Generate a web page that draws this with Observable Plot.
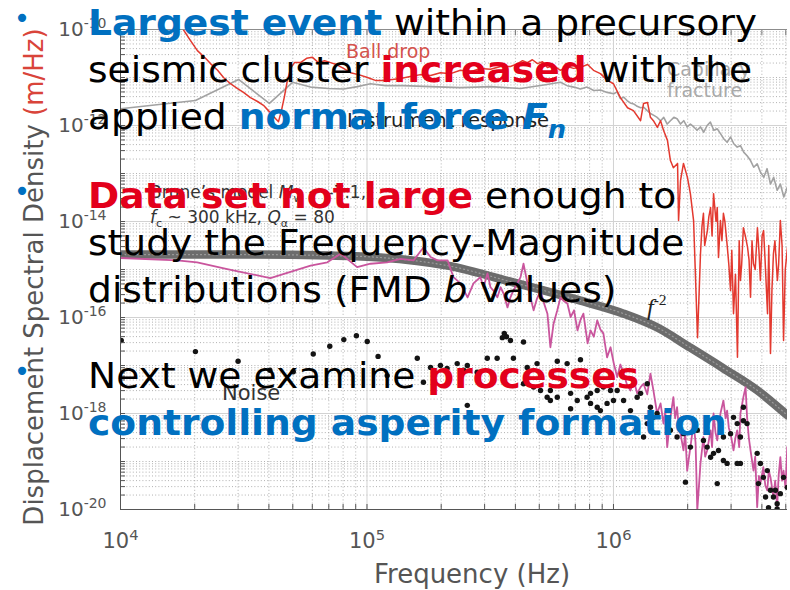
<!DOCTYPE html>
<html>
<head>
<meta charset="utf-8">
<script src="https://cdn.jsdelivr.net/npm/d3@7"></script>
<script src="https://cdn.jsdelivr.net/npm/@observablehq/plot@0.6"></script>
<style>
  html, body { margin: 0; padding: 0; background: #ffffff; }
  #slide { position: relative; width: 790px; height: 590px; overflow: hidden; }
  #slide svg { position: absolute; left: 0; top: 0; }
</style>
</head>
<body>
<div id="slide"></div>
<script>
// Spectra as [log10 frequency (Hz), log10 displacement spectral density (m/Hz)]
const capillaryFracture = [
  [4.000,-11.65],[4.304,-11.48],[4.479,-11.04],[4.604,-11.54],[4.698,-11.10],[4.771,-11.20],
  [4.844,-11.23],[4.905,-11.24],[4.961,-11.19],[5.014,-11.13],[5.075,-11.17],[5.148,-11.17],
  [5.258,-11.19],[5.379,-11.21],[5.501,-11.19],[5.623,-11.23],[5.724,-11.15],[5.785,-11.10],
  [5.812,-11.17],[5.839,-11.20],[5.866,-11.24],[5.893,-11.20],[5.920,-11.27],[5.947,-11.26],
  [5.974,-11.31],[6.001,-11.34],[6.015,-11.30],[6.028,-11.44],[6.042,-11.41],[6.055,-11.48],
  [6.068,-11.53],[6.082,-11.55],[6.096,-11.60],[6.110,-11.63],[6.123,-11.62],[6.137,-11.69],
  [6.150,-11.75],[6.164,-11.79],[6.177,-11.83],[6.191,-11.90],[6.204,-11.83],[6.218,-11.97],
  [6.231,-11.90],[6.245,-11.83],[6.258,-11.86],[6.272,-11.97],[6.285,-11.90],[6.299,-12.03],
  [6.312,-11.97],[6.326,-12.03],[6.339,-12.10],[6.353,-12.03],[6.366,-12.14],[6.380,-12.00],
  [6.393,-11.93],[6.407,-12.10],[6.421,-12.07],[6.434,-12.17],[6.448,-12.28],[6.461,-12.35],
  [6.475,-12.24],[6.488,-12.38],[6.502,-12.45],[6.515,-12.42],[6.529,-12.56],[6.542,-12.63],
  [6.556,-12.73],[6.569,-12.87],[6.583,-12.80],[6.596,-12.97],[6.610,-13.08],[6.623,-12.90],
  [6.637,-13.22],[6.650,-13.08],[6.664,-13.35],[6.677,-13.22],[6.691,-13.49],[6.705,-13.29],
  [6.718,-13.56]
];

const ballDrop = [
  [4.200,-9.70],[4.252,-9.98],[4.284,-10.23],[4.312,-10.44],[4.345,-10.60],[4.365,-10.71],
  [4.394,-10.85],[4.418,-11.00],[4.446,-11.13],[4.475,-11.23],[4.499,-11.31],[4.527,-11.42],
  [4.556,-11.50],[4.580,-11.58],[4.600,-11.69],[4.621,-11.81],[4.641,-11.92],[4.653,-11.69],
  [4.665,-11.40],[4.677,-11.06],[4.690,-10.81],[4.706,-10.69],[4.730,-10.69],[4.755,-10.60],
  [4.779,-10.58],[4.803,-10.69],[4.828,-10.65],[4.852,-10.69],[4.876,-10.73],[4.905,-10.81],
  [4.933,-10.90],[4.966,-10.94],[5.002,-11.00],[5.034,-11.06],[5.067,-11.06],[5.103,-11.04],
  [5.136,-11.02],[5.176,-10.98],[5.217,-10.94],[5.258,-10.96],[5.298,-10.90],[5.339,-10.92],
  [5.379,-10.85],[5.420,-10.88],[5.460,-10.81],[5.501,-10.83],[5.542,-10.77],[5.582,-10.77],
  [5.611,-10.71],[5.631,-10.65],[5.651,-10.69],[5.671,-10.63],[5.692,-10.71],[5.712,-10.67],
  [5.732,-10.79],[5.757,-10.75],[5.785,-10.85],[5.813,-10.77],[5.838,-10.81],[5.866,-10.79],
  [5.895,-10.73],[5.919,-10.85],[5.947,-10.92],[5.976,-11.06],[6.000,-11.13],[6.028,-11.42],
  [6.057,-11.63],[6.081,-11.69],[6.110,-11.90],[6.122,-11.54],[6.138,-11.52],[6.150,-11.83],
  [6.162,-11.90],[6.178,-12.04],[6.191,-11.90],[6.203,-12.10],[6.219,-12.31],[6.231,-12.73],
  [6.243,-12.88],[6.260,-12.79],[6.264,-13.98],[6.272,-13.15],[6.284,-12.79],[6.300,-13.08],
  [6.312,-13.42],[6.325,-13.98],[6.341,-16.42],[6.353,-14.67],[6.359,-14.10],[6.365,-13.83],
  [6.370,-14.50],[6.381,-14.19],[6.387,-13.90],[6.394,-13.71],[6.400,-14.30],[6.406,-13.42],
  [6.416,-14.00],[6.421,-13.71],[6.426,-14.75],[6.434,-13.98],[6.440,-14.40],[6.446,-13.83],
  [6.452,-14.00],[6.462,-14.54],[6.468,-14.90],[6.475,-15.44],[6.480,-14.60],[6.487,-15.92],
  [6.495,-15.10],[6.503,-16.83],[6.510,-14.40],[6.515,-15.23],[6.520,-14.90],[6.527,-14.13],
  [6.535,-14.30],[6.544,-14.54],[6.550,-14.80],[6.556,-15.58],[6.562,-14.40],[6.568,-14.88],
  [6.575,-15.00],[6.584,-14.13],[6.590,-14.60],[6.596,-15.23],[6.603,-14.30],[6.609,-14.19],
  [6.615,-14.80],[6.625,-15.92],[6.630,-14.50],[6.637,-16.75],[6.643,-15.40],[6.649,-14.67],
  [6.655,-14.40],[6.665,-15.23],[6.670,-14.90],[6.677,-13.98],[6.684,-14.50],[6.690,-16.48],
  [6.697,-15.00],[6.706,-14.54],[6.712,-14.80]
];

const largestEvent = [
  [4.000,-14.76],[4.230,-14.81],[4.311,-14.85],[4.433,-14.99],[4.608,-15.18],[4.771,-14.92],
  [4.839,-14.85],[4.893,-14.67],[4.960,-14.95],[5.014,-14.88],[5.082,-14.85],[5.136,-14.78],
  [5.189,-14.81],[5.229,-14.54],[5.258,-14.74],[5.286,-14.81],[5.327,-14.81],[5.351,-15.16],
  [5.379,-15.29],[5.408,-15.58],[5.432,-15.29],[5.460,-15.16],[5.473,-15.37],[5.489,-15.08],
  [5.501,-15.37],[5.513,-15.44],[5.529,-15.58],[5.542,-15.37],[5.554,-15.50],[5.570,-15.79],
  [5.582,-15.58],[5.594,-15.44],[5.623,-15.16],[5.635,-14.88],[5.651,-15.29],[5.663,-15.58],
  [5.676,-15.85],[5.690,-15.60],[5.704,-15.44],[5.718,-15.70],[5.732,-15.92],[5.744,-16.62],
  [5.757,-16.13],[5.772,-15.85],[5.785,-15.58],[5.797,-15.65],[5.813,-15.71],[5.826,-15.99],
  [5.840,-15.85],[5.854,-16.27],[5.866,-16.05],[5.878,-15.92],[5.895,-16.54],[5.907,-16.27],
  [5.920,-16.40],[5.934,-16.06],[5.947,-16.25],[5.959,-16.33],[5.974,-16.83],[5.988,-16.62],
  [6.001,-16.95],[6.015,-17.24],[6.028,-16.98],[6.041,-17.17],[6.055,-17.40],[6.069,-17.52],
  [6.082,-17.30],[6.096,-17.58],[6.110,-17.45],[6.122,-17.38],[6.137,-17.60],[6.150,-17.17],
  [6.162,-17.52],[6.177,-18.00],[6.191,-17.79],[6.203,-18.21],[6.210,-17.95],[6.218,-18.70],
  [6.231,-18.08],[6.243,-17.66],[6.250,-18.10],[6.258,-17.87],[6.265,-18.30],[6.272,-18.42],
  [6.284,-18.77],[6.291,-18.40],[6.299,-19.19],[6.312,-18.70],[6.325,-18.21],[6.333,-18.60],
  [6.340,-20.02],[6.353,-19.04],[6.365,-18.49],[6.372,-18.90],[6.380,-18.77],[6.394,-18.35],
  [6.400,-18.70],[6.406,-18.00],[6.414,-18.40],[6.421,-18.56],[6.434,-18.00],[6.446,-17.73],
  [6.455,-18.10],[6.461,-17.94],[6.468,-18.30],[6.475,-18.42],[6.487,-18.77],[6.495,-18.50],
  [6.502,-18.35],[6.510,-18.70],[6.515,-18.00],[6.527,-17.66],[6.536,-17.45],[6.542,-18.08],
  [6.549,-18.50],[6.556,-18.77],[6.568,-19.19],[6.575,-18.90],[6.583,-19.95],[6.590,-19.30],
  [6.596,-19.46],[6.608,-19.12],[6.616,-19.50],[6.624,-19.60],[6.630,-19.20],[6.637,-19.33],
  [6.649,-19.74],[6.656,-19.40],[6.664,-19.95],[6.670,-19.30],[6.677,-18.91],[6.684,-19.40],
  [6.690,-19.19],[6.698,-19.55],[6.705,-18.70]
];

const bruneModel = [
  [4.000,-14.69],[4.527,-14.69],[4.852,-14.71],[5.055,-14.75],[5.327,-14.92],[5.594,-15.27],
  [5.866,-15.65],[6.041,-15.92],[6.178,-16.21],[6.312,-16.63],[6.446,-17.06],[6.584,-17.52],
  [6.706,-18.04]
];

const noiseDots = [
  [4.003,-16.48],[4.304,-16.71],[4.477,-16.91],[4.606,-17.10],[4.701,-17.13],[4.782,-16.76],
  [4.849,-16.60],[4.906,-16.46],[4.957,-16.38],[5.001,-16.50],[5.045,-16.81],[5.082,-17.21],
  [5.204,-16.85],[5.229,-17.35],[5.258,-17.04],[5.298,-17.00],[5.325,-17.06],[5.366,-16.96],
  [5.392,-17.10],[5.407,-17.00],[5.407,-17.83],[5.447,-17.14],[5.488,-16.85],[5.528,-16.85],
  [5.549,-16.42],[5.557,-16.33],[5.566,-16.40],[5.582,-16.48],[5.594,-16.85],[5.635,-16.51],
  [5.635,-17.38],[5.650,-17.04],[5.676,-17.45],[5.690,-16.96],[5.704,-17.52],[5.731,-17.66],
  [5.744,-17.52],[5.744,-17.73],[5.772,-16.91],[5.772,-17.66],[5.812,-16.96],[5.826,-17.58],
  [5.826,-17.90],[5.853,-17.73],[5.866,-16.88],[5.893,-17.66],[5.907,-17.58],[5.907,-17.79],
  [5.934,-17.52],[5.934,-17.87],[5.947,-17.94],[5.959,-17.45],[5.974,-17.79],[5.988,-17.52],
  [6.000,-17.73],[6.015,-17.52],[6.041,-17.73],[6.069,-17.94],[6.096,-17.66],[6.110,-17.58],
  [6.122,-18.49],[6.137,-18.21],[6.137,-17.38],[6.150,-17.87],[6.162,-18.08],[6.177,-18.00],
  [6.231,-18.35],[6.258,-18.49],[6.284,-18.42],[6.292,-19.43],[6.312,-18.70],[6.340,-18.35],
  [6.365,-18.56],[6.380,-18.70],[6.394,-18.91],[6.406,-18.83],[6.421,-19.46],[6.426,-18.77],
  [6.446,-18.98],[6.446,-18.49],[6.461,-19.04],[6.475,-18.42],[6.487,-18.08],[6.502,-18.21],
  [6.502,-19.04],[6.515,-18.49],[6.515,-19.04],[6.527,-18.15],[6.527,-17.87],[6.542,-18.21],
  [6.583,-18.83],[6.588,-19.46],[6.596,-19.04],[6.608,-19.33],[6.617,-19.74],[6.624,-19.19],
  [6.629,-19.96],[6.637,-19.60],[6.649,-19.74],[6.657,-19.60],[6.664,-19.88],[6.664,-19.99],
  [6.677,-19.67],[6.690,-19.33],[6.705,-19.54]
];

// Axis ticks
const xDomain = [1e4, 10 ** 6.706];
const yDomain = [1e-20, 1e-10];
const xDecades = [1e4, 1e5, 1e6];
const yLabelTicks = [1e-20, 1e-18, 1e-16, 1e-14, 1e-12, 1e-10];

// Slide text
const slideLines = [
  [["Largest event", "blue"], [" within a precursory", "plain"]],
  [["seismic cluster ", "plain"], ["increased", "red"], [" with the", "plain"]],
  [["applied ", "plain"], ["normal force ", "blue"], ["F", "blueItalic"], ["n", "blueSub"]],
  [["Data set not large", "red"], [" enough to", "plain"]],
  [["study the Frequency-Magnitude", "plain"]],
  [["distributions (FMD ", "plain"], ["b", "italic"], [" values)", "plain"]],
  [["Next we examine ", "plain"], ["processes", "red"]],
  [["controlling asperity formation", "blue"]]
];
const lineBaselines = [35, 82, 129, 208, 255, 302, 388, 435];
const bulletRows = [0, 3, 6];

const toPoints = rows => rows.map(([lf, ls]) => ({f: 10 ** lf, s: 10 ** ls}));
const xMinor = xDecades.flatMap(d => d3.range(2, 10).map(k => k * d)).filter(v => v <= xDomain[1]);
const xAllTicks = [...xDecades, ...xMinor];
const yDecades = d3.range(-20, -9).map(e => 10 ** e);
const yOddDecades = d3.range(-19, -10, 2).map(e => 10 ** e);
const yMinor = d3.range(-20, -10).flatMap(e => d3.range(2, 10).map(k => k * 10 ** e));
const yAllTicks = [...yDecades, ...yMinor];
const powerFormat = d => `10^${Math.round(Math.log10(d))}`;

const chart = Plot.plot({
  width: 790,
  height: 590,
  marginLeft: 120,
  marginRight: 3,
  marginTop: 29,
  marginBottom: 81,
  style: {fontFamily: "'DejaVu Sans', sans-serif", background: "transparent", overflow: "visible"},
  x: {type: "log", domain: xDomain},
  y: {type: "log", domain: yDomain},
  marks: [
    Plot.ruleX(xMinor, {stroke: "#a9a9a9", strokeWidth: 0.9, strokeDasharray: "1,2.2"}),
    Plot.ruleY([...yMinor, ...yOddDecades], {stroke: "#a9a9a9", strokeWidth: 0.9, strokeDasharray: "1,2.2"}),
    Plot.ruleX(xDecades, {stroke: "#d2d2d2"}),
    Plot.ruleY(yLabelTicks, {stroke: "#d2d2d2"}),
    Plot.line(toPoints(capillaryFracture), {x: "f", y: "s", stroke: "#a2a2a2", strokeWidth: 1.6, clip: true}),
    Plot.line(toPoints(ballDrop), {x: "f", y: "s", stroke: "#e3392f", strokeWidth: 1.5, clip: true}),
    Plot.line(toPoints(bruneModel), {x: "f", y: "s", stroke: "#6c6c6c", strokeWidth: 8.5, curve: "monotone-x", clip: true}),
    Plot.line(toPoints(bruneModel), {x: "f", y: "s", stroke: "#9c9c9c", strokeWidth: 1.2, strokeDasharray: "1,3", curve: "monotone-x", clip: true}),
    Plot.line(toPoints(largestEvent), {x: "f", y: "s", stroke: "#c9559d", strokeWidth: 1.8, clip: true}),
    Plot.dot(toPoints(noiseDots), {x: "f", y: "s", r: 2.7, fill: "#141414", clip: true}),
    Plot.ruleY([yDomain[1]], {stroke: "#8c8c8c"}),
    Plot.ruleX([xDomain[0]], {stroke: "#555"}),
    Plot.ruleY([yDomain[0]], {stroke: "#555"}),
    Plot.axisY({ticks: yAllTicks, tickSize: -5, tickFormat: () => "", stroke: "#555", label: null}),
    Plot.axisY({ticks: yLabelTicks, tickSize: 0, tickPadding: 14, tickFormat: powerFormat, fontSize: 20, fill: "#555", label: null}),
    Plot.axisX({ticks: xAllTicks, tickSize: -5, tickFormat: () => "", stroke: "#555", label: null}),
    Plot.axisX({ticks: xDecades, tickSize: 0, tickPadding: 24, tickFormat: powerFormat, fontSize: 21, fill: "#555", label: null}),
    Plot.axisX({anchor: "top", ticks: xAllTicks, tickSize: -5, tickFormat: () => "", stroke: "#777", label: null})
  ]
});
document.getElementById("slide").appendChild(chart);

const svg = d3.select(chart);

// Power-of-ten tick labels with superscript exponents
svg.selectAll("text").each(function () {
  const s = this.textContent;
  if (!s.includes("^")) return;
  const [base, exp] = s.split("^");
  const t = d3.select(this);
  t.text(null);
  t.append("tspan").text(base);
  t.append("tspan").attr("dy", "-0.55em").attr("font-size", "0.7em").text(exp);
});

// Axis titles
svg.append("text")
  .attr("transform", "translate(43,277) rotate(-90)")
  .attr("text-anchor", "middle")
  .attr("font-size", 26)
  .attr("fill", "#555")
  .call(t => {
    t.append("tspan").text("Displacement Spectral Density ");
    t.append("tspan").attr("fill", "#d9443a").text("(m/Hz)");
  });
svg.append("text")
  .attr("x", 472).attr("y", 583)
  .attr("text-anchor", "middle")
  .attr("font-size", 26)
  .attr("fill", "#555")
  .text("Frequency (Hz)");

// In-plot annotations, anchored in data coordinates [log10 f, log10 S]
const sx = chart.scale("x"), sy = chart.scale("y");
const at = ([lf, ls]) => [sx.apply(10 ** lf), sy.apply(10 ** ls)];
function note(anchor, parts, opts = {}) {
  const [x, y] = at(anchor);
  const t = svg.append("text").attr("x", x).attr("y", y)
    .attr("text-anchor", "start")
    .attr("font-size", opts.size || 18).attr("fill", opts.fill || "#333")
    .style("white-space", "pre");
  if (opts.family) t.attr("font-family", opts.family);
  for (const p of parts) {
    const [txt, kind] = Array.isArray(p) ? p : [p, "plain"];
    const s = t.append("tspan").text(txt);
    if (kind === "it") s.attr("font-style", "italic");
    if (kind === "sub") s.attr("font-size", "0.65em").attr("dy", 4);
    if (kind === "after") s.attr("dy", -4);
    if (kind === "sup") s.attr("font-size", "0.65em").attr("dy", -10);
  }
  return t;
}
note([4.917, -10.60], ["Ball drop"], {size: 19, fill: "#d4534c"});
note([6.219, -10.98], ["Capillary"], {size: 19, fill: "#a9a9a9"});
note([6.219, -11.42], ["fracture"], {size: 19, fill: "#a9a9a9"});
note([4.921, -12.04], ["Instrument response"], {size: 19.5, fill: "#222"});
note([4.122, -13.52], ["Brune’s model ", ["M", "it"], ["w", "sub"], [" ~ -7.1,", "after"]], {size: 17, fill: "#333"});
note([4.122, -14.04], [["f", "it"], ["c", "sub"], [" ~ 300 kHz, ", "after"], ["Q", "it"], ["α", "sub"], [" = 80", "after"]], {size: 17, fill: "#333"});
note([4.414, -17.73], ["Noise"], {size: 21, fill: "#333"});
note([6.138, -15.96], [["f", "it"], ["-2", "sup"]], {size: 24, fill: "#222", family: "'Liberation Serif', serif"});

// Bullet text over the chart
const over = d3.select("#slide").append("svg")
  .attr("width", 790).attr("height", 590)
  .style("pointer-events", "none")
  .attr("font-family", "'DejaVu Sans', Verdana, sans-serif");
const stretch = 1.075;
const g = over.append("g").attr("transform", `scale(${stretch},1)`);
const styles = {
  plain: {fill: "#000", weight: "normal"},
  blue: {fill: "#0070c0", weight: "bold"},
  red: {fill: "#e3001b", weight: "bold"},
  italic: {fill: "#000", weight: "normal", italic: true},
  blueItalic: {fill: "#0070c0", weight: "bold", italic: true},
  blueSub: {fill: "#0070c0", weight: "bold", italic: true, size: 24, dy: 9}
};
slideLines.forEach((segments, i) => {
  const t = g.append("text")
    .attr("x", 88 / stretch).attr("y", lineBaselines[i])
    .attr("font-size", 35)
    .style("white-space", "pre");
  for (const [txt, kind] of segments) {
    const st = styles[kind];
    const s = t.append("tspan").text(txt).attr("fill", st.fill).attr("font-weight", st.weight);
    if (st.italic) s.attr("font-style", "italic");
    if (st.size) s.attr("font-size", st.size);
    if (st.dy) s.attr("dy", st.dy);
  }
});
bulletRows.forEach(i => {
  over.append("text")
    .attr("x", 22).attr("y", lineBaselines[i] - 7)
    .attr("text-anchor", "middle")
    .attr("font-size", 28)
    .attr("fill", "#0070c0")
    .text("•");
});
</script>
</body>
</html>
